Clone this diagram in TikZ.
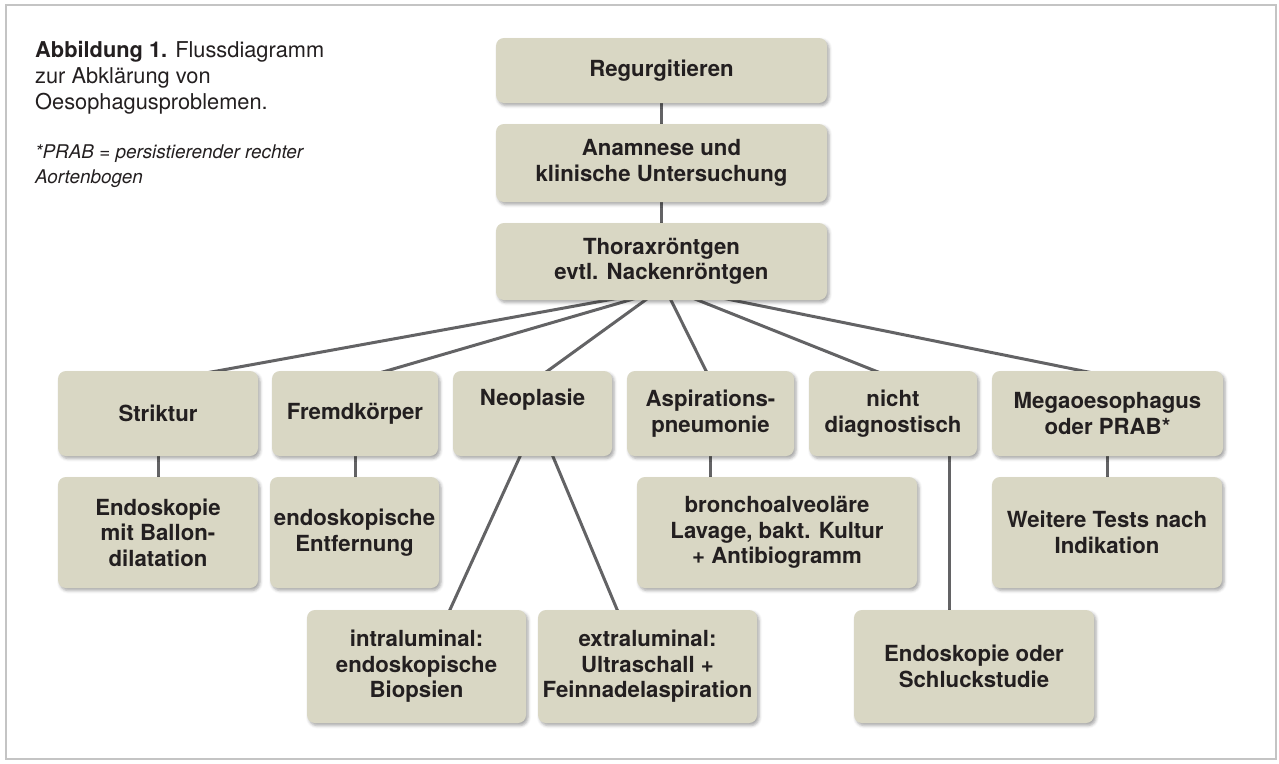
\documentclass[tikz,border=0pt]{standalone}
\usepackage{fontspec}
\setmainfont{TeX Gyre Heros}
\usetikzlibrary{shadows.blur,calc,backgrounds}
\definecolor{boxfill}{HTML}{D9D7C4}
\definecolor{txt}{HTML}{231F20}
\definecolor{connc}{HTML}{636365}
\definecolor{framec}{HTML}{C4C4C4}
\begin{document}
\begin{tikzpicture}[x=1pt,y=-1pt,
  flowbox/.style={fill=boxfill, rounded corners=8pt, align=center, text=txt,
    font=\bfseries\fontsize{22.2}{25.5}\selectfont, inner sep=2pt,
    blur shadow={shadow xshift=2pt, shadow yshift=-2.5pt, shadow blur radius=3pt, shadow opacity=35}},
  conn/.style={draw=connc, line width=3pt},
  capt/.style={anchor=base west, inner sep=0pt, text=txt, font=\fontsize{21.8}{26}\selectfont},
  note/.style={anchor=base west, inner sep=0pt, text=txt, font=\itshape\fontsize{18.9}{25}\selectfont}]
\useasboundingbox (0,0) rectangle (1279,763);
\draw[framec, line width=1.2pt] (6,5) rectangle (1276,759);

% caption
\node[capt] (c1) at (35,57) {\textbf{Abbildung 1.} Flussdiagramm};
\node[capt] (c2) at (35,83) {zur Abklärung von};
\node[capt] (c3) at (35,109) {Oesophagusproblemen.};
\node[note] (n1) at (35,158) {*PRAB = persistierender rechter};
\node[note] (n2) at (35,183) {Aortenbogen};

% top column
\node[flowbox, minimum width=331pt, minimum height=65pt] (reg) at (661.5,70.5) {Regurgitieren};
\node[flowbox, minimum width=331pt, minimum height=78pt] (ana) at (661.5,163) {Anamnese und\\klinische Untersuchung};
\node[flowbox, minimum width=331pt, minimum height=77pt] (tho) at (661.5,261.5) {Thoraxröntgen\\evtl. Nackenröntgen};

% row 2
\node[flowbox, minimum width=200pt, minimum height=85pt] (str) at (158,413.5) {Striktur};
\node[flowbox, minimum width=166pt, minimum height=85pt] (fre) at (355,413.5) {Fremdkörper};
\node[flowbox, minimum width=159pt, minimum height=85pt] (neo) at (532.5,413.5) {Neoplasie\\\strut};
\node[flowbox, minimum width=167pt, minimum height=85pt] (asp) at (710.5,413.5) {Aspirations-\\pneumonie};
\node[flowbox, minimum width=168pt, minimum height=85pt] (nic) at (893,413.5) {nicht\\diagnostisch};
\node[flowbox, minimum width=231pt, minimum height=85pt] (meg) at (1107.5,413.5) {Megaoesophagus\\oder PRAB*};

% row 3
\node[flowbox, minimum width=200pt, minimum height=111pt] (endo) at (158,532.5) {Endoskopie\\mit Ballon-\\dilatation};
\node[flowbox, minimum width=169pt, minimum height=111pt] (ent) at (354.5,532.5) {endoskopische\\Entfernung};
\node[flowbox, minimum width=280pt, minimum height=111pt] (bro) at (777,532.5) {bronchoalveoläre\\Lavage, bakt. Kultur\\+ Antibiogramm};
\node[flowbox, minimum width=230pt, minimum height=111pt] (wei) at (1107,532.5) {Weitere Tests nach\\Indikation};

% row 4
\node[flowbox, minimum width=219pt, minimum height=113pt] (intra) at (416.5,666.5) {intraluminal:\\endoskopische\\Biopsien};
\node[flowbox, minimum width=219pt, minimum height=113pt] (extra) at (647.5,666.5) {extraluminal:\\Ultraschall +\\Feinnadelaspiration};
\node[flowbox, minimum width=240pt, minimum height=113pt] (eos) at (974,666.5) {Endoskopie oder\\Schluckstudie};

\coordinate (vx) at (949,0);

\begin{scope}[on background layer]
\draw[conn] (reg.south) -- (ana.north);
\draw[conn] (ana.south) -- (tho.north);
\draw[conn] ($(tho.south)+(-43.5,-2)$) -- ($(str.north)+(49,2)$);
\draw[conn] ($(tho.south)+(-25.5,-2)$) -- ($(fre.north)+(25,2)$);
\draw[conn] ($(tho.south)+(-13.5,-2)$) -- ($(neo.north)+(12.5,2)$);
\draw[conn] ($(tho.south)+(8.5,-2)$) -- ($(asp.north)+(-3.5,2)$);
\draw[conn] ($(tho.south)+(31.5,-2)$) -- ($(nic.north)+(-13,2)$);
\draw[conn] ($(tho.south)+(61.5,-2)$) -- ($(meg.north)+(-15.5,2)$);
\draw[conn] (str.south) -- (str.south |- endo.north);
\draw[conn] (fre.south) -- (fre.south |- ent.north);
\draw[conn] (asp.south) -- (asp.south |- bro.north);
\draw[conn] (nic.south -| vx) -- (eos.north -| vx);
\draw[conn] (meg.south) -- (meg.south |- wei.north);
\draw[conn] ($(neo.south)+(-11.5,-2)$) -- ($(intra.north)+(32.5,2)$);
\draw[conn] ($(neo.south)+(19.5,-2)$) -- ($(extra.north)+(-29.5,2)$);
\end{scope}
\end{tikzpicture}
\end{document}
